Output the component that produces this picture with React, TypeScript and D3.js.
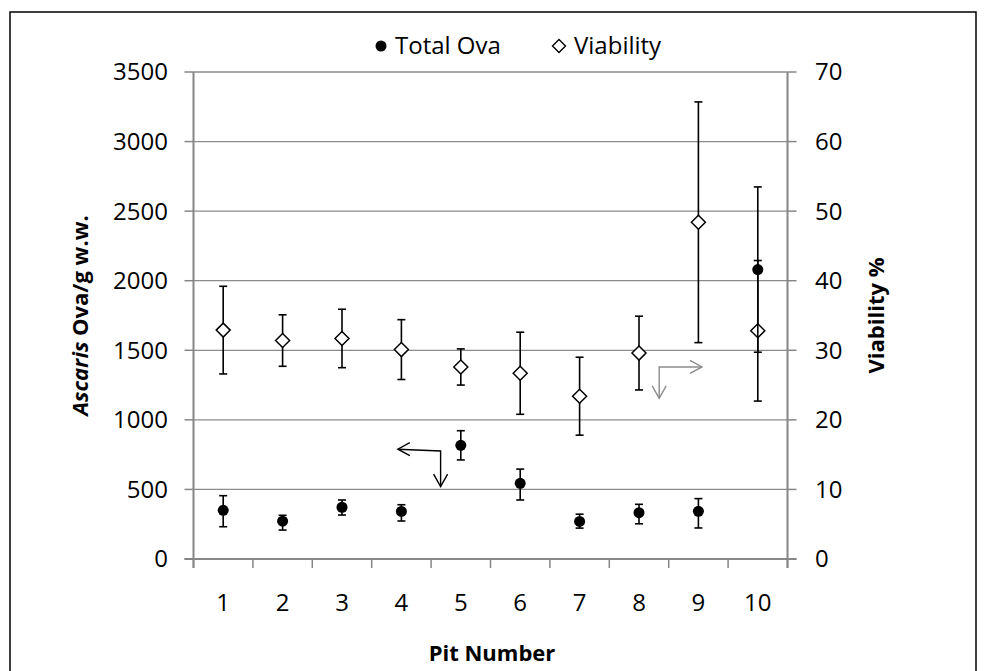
import React from 'react';
import * as d3 from 'd3';

const pits = ['1', '2', '3', '4', '5', '6', '7', '8', '9', '10'];
const totalOva = [350, 272, 372, 342, 817, 544, 270, 333, 343, 2080];
const ovaErrUp = [105, 42, 52, 48, 105, 102, 52, 60, 91, 594];
const ovaErrDown = [118, 64, 56, 69, 105, 120, 48, 80, 120, 594];
const viability = [32.9, 31.4, 31.7, 30.1, 27.6, 26.7, 23.4, 29.6, 48.4, 32.8];
const viabilityErr = [6.3, 3.7, 4.2, 4.3, 2.6, 5.9, 5.6, 5.3, 17.3, 10.1];
const leftTicks = [0, 500, 1000, 1500, 2000, 2500, 3000, 3500];
const rightTicks = [0, 10, 20, 30, 40, 50, 60, 70];

// annotation arrows in data coordinates (pit position, value)
const ovaArrow = { corner: [4.66, 776], left: 3.94, leftY: 789, down: 520 };
const viabArrow = { corner: [8.34, 27.6], right: 9.06, down: 23.1 };

const W = 986;
const H = 671;
const M = { left: 193.5, right: 787.5, top: 72, bottom: 559 };
const FONT = '"Open Sans", "DejaVu Sans", sans-serif';
const AXIS = '#868686';

export default function App() {
  const x = d3.scaleBand<string>().domain(pits).range([M.left, M.right]).paddingInner(0).paddingOuter(0);
  const xLin = d3.scaleLinear().domain([0.5, 10.5]).range([M.left, M.right]);
  const yL = d3.scaleLinear().domain([0, 3500]).range([M.bottom, M.top]);
  const yR = d3.scaleLinear().domain([0, 70]).range([M.bottom, M.top]);
  const cx = (p: string) => (x(p) as number) + x.bandwidth() / 2;
  const cap = 4;
  const diamond = (r: number) => `M0,${-r}L${r},0L0,${r}L${-r},0Z`;
  const boundaries = d3.range(pits.length + 1).map((i) => M.left + i * x.bandwidth());

  const headL = (tx: number, ty: number, color: string) => (
    <path d={`M${tx + 12},${ty - 6.5}L${tx},${ty}L${tx + 12},${ty + 6.5}`} fill="none" stroke={color} strokeWidth={1.4} />
  );
  const headR = (tx: number, ty: number, color: string) => (
    <path d={`M${tx - 12},${ty - 6.5}L${tx},${ty}L${tx - 12},${ty + 6.5}`} fill="none" stroke={color} strokeWidth={1.4} />
  );
  const headD = (tx: number, ty: number, color: string) => (
    <path d={`M${tx - 7},${ty - 12.5}L${tx},${ty}L${tx + 7},${ty - 12.5}`} fill="none" stroke={color} strokeWidth={1.4} />
  );

  const oCx = xLin(ovaArrow.corner[0]);
  const oCy = yL(ovaArrow.corner[1]);
  const oLx = xLin(ovaArrow.left);
  const oLy = yL(ovaArrow.leftY);
  const oDy = yL(ovaArrow.down);
  const vCx = xLin(viabArrow.corner[0]);
  const vCy = yR(viabArrow.corner[1]);
  const vRx = xLin(viabArrow.right);
  const vDy = yR(viabArrow.down);

  return (
    <svg width={W} height={H} style={{ position: 'absolute', left: 0, top: 0, background: '#fff' }} fontFamily={FONT}>
      <rect x={0} y={0} width={W} height={H} fill="#fff" />
      <rect x={10} y={12} width={966} height={680} fill="none" stroke="#000" strokeWidth={1.5} />

      {/* gridlines */}
      {leftTicks.slice(1).map((t) => (
        <line key={'g' + t} x1={M.left} x2={M.right} y1={yL(t)} y2={yL(t)} stroke="#8c8c8c" strokeWidth={1.3} />
      ))}

      {/* left axis */}
      <line x1={M.left} x2={M.left} y1={M.top} y2={M.bottom + 9} stroke={AXIS} strokeWidth={2} />
      {leftTicks.map((t) => (
        <g key={'l' + t}>
          <line x1={M.left - 9} x2={M.left} y1={yL(t)} y2={yL(t)} stroke={AXIS} strokeWidth={1.5} />
          <text x={168} y={yL(t)} dy="0.35em" textAnchor="end" fontSize={24} fill="#000">{t}</text>
        </g>
      ))}

      {/* right axis */}
      <line x1={M.right} x2={M.right} y1={M.top} y2={M.bottom + 9} stroke={AXIS} strokeWidth={2} />
      {rightTicks.map((t) => (
        <g key={'r' + t}>
          <line x1={M.right} x2={M.right + 9} y1={yR(t)} y2={yR(t)} stroke={AXIS} strokeWidth={1.5} />
          <text x={815} y={yR(t)} dy="0.35em" textAnchor="start" fontSize={24} fill="#000">{t}</text>
        </g>
      ))}

      {/* bottom axis */}
      <line x1={M.left - 9} x2={M.right + 9} y1={M.bottom} y2={M.bottom} stroke={AXIS} strokeWidth={2} />
      {boundaries.map((b, i) => (
        <line key={'b' + i} x1={b} x2={b} y1={M.bottom} y2={M.bottom + 9} stroke={AXIS} strokeWidth={1.5} />
      ))}
      {pits.map((p) => (
        <text key={'x' + p} x={cx(p)} y={603} dy="0.35em" textAnchor="middle" fontSize={24} fill="#000">{p}</text>
      ))}

      {/* titles */}
      <text x={492} y={661} textAnchor="middle" fontSize={22} fontWeight="bold" fill="#000">Pit Number</text>
      <text transform={`translate(88,${(M.top + M.bottom) / 2}) rotate(-90)`} textAnchor="middle" fontSize={22} fontWeight="bold" fill="#000">
        <tspan fontStyle="italic">Ascaris</tspan> Ova/g w.w.
      </text>
      <text transform={`translate(884,${(M.top + M.bottom) / 2}) rotate(-90)`} textAnchor="middle" fontSize={22} fontWeight="bold" fill="#000">
        Viability %
      </text>

      {/* annotations */}
      <g>
        <path d={`M${oLx},${oLy}L${oCx},${oCy}L${oCx},${oDy}`} fill="none" stroke="#000" strokeWidth={1.4} />
        {headL(oLx, oLy, '#000')}
        {headD(oCx, oDy, '#000')}
        <path d={`M${vRx},${vCy}L${vCx},${vCy}L${vCx},${vDy}`} fill="none" stroke="#8c8c8c" strokeWidth={1.4} />
        {headR(vRx, vCy, '#8c8c8c')}
        {headD(vCx, vDy, '#8c8c8c')}
      </g>

      {/* viability error bars + diamonds */}
      {pits.map((p, i) => {
        const X = cx(p);
        const t = yR(viability[i] + viabilityErr[i]);
        const b = yR(viability[i] - viabilityErr[i]);
        return (
          <g key={'v' + p}>
            <line x1={X} x2={X} y1={t} y2={b} stroke="#000" strokeWidth={1.6} />
            <line x1={X - cap} x2={X + cap} y1={t} y2={t} stroke="#000" strokeWidth={1.6} />
            <line x1={X - cap} x2={X + cap} y1={b} y2={b} stroke="#000" strokeWidth={1.6} />
          </g>
        );
      })}
      {pits.map((p, i) => (
        <path key={'vd' + p} d={diamond(7)} transform={`translate(${cx(p)},${yR(viability[i])})`} fill="#fff" stroke="#000" strokeWidth={1.5} />
      ))}

      {/* total ova error bars + dots */}
      {pits.map((p, i) => {
        const X = cx(p);
        const t = yL(totalOva[i] + ovaErrUp[i]);
        const b = yL(totalOva[i] - ovaErrDown[i]);
        return (
          <g key={'o' + p}>
            <line x1={X} x2={X} y1={t} y2={b} stroke="#000" strokeWidth={1.6} />
            <line x1={X - cap} x2={X + cap} y1={t} y2={t} stroke="#000" strokeWidth={1.6} />
            <line x1={X - cap} x2={X + cap} y1={b} y2={b} stroke="#000" strokeWidth={1.6} />
            <circle cx={X} cy={yL(totalOva[i])} r={5.5} fill="#000" />
          </g>
        );
      })}

      {/* legend */}
      <circle cx={381} cy={46} r={5.5} fill="#000" />
      <text x={395} y={46} dy="0.35em" fontSize={24} fill="#000">Total Ova</text>
      <path d={diamond(6.5)} transform="translate(559,46)" fill="#fff" stroke="#000" strokeWidth={1.4} />
      <text x={574} y={46} dy="0.35em" fontSize={24} fill="#000">Viability</text>
    </svg>
  );
}
